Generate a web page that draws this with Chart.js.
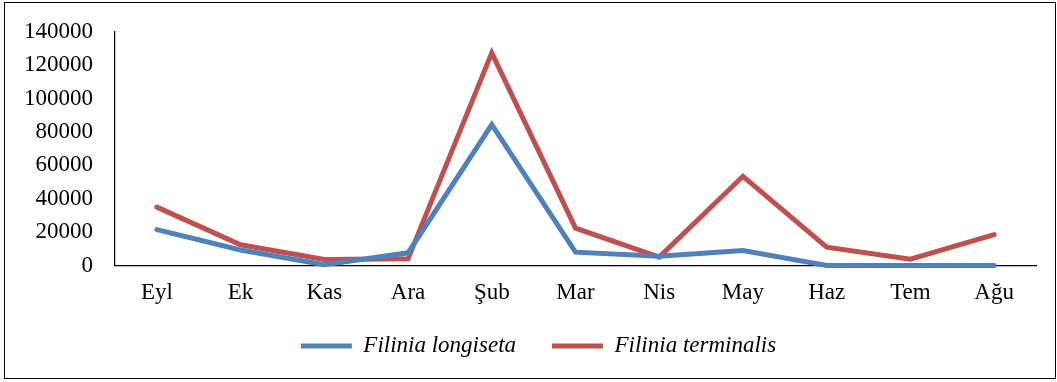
<!DOCTYPE html>
<html>
<head>
<meta charset="utf-8">
<script src="https://cdn.jsdelivr.net/npm/chart.js@4.4.1/dist/chart.umd.min.js"></script>
<style>
  html, body { margin: 0; padding: 0; background: #fff; }
  canvas { display: block; }
</style>
</head>
<body>
<canvas id="c" width="1057" height="382"></canvas>
<script>
// Monthly abundance of two Filinia species
const months = ['Eyl', 'Ek', 'Kas', 'Ara', 'Şub', 'Mar', 'Nis', 'May', 'Haz', 'Tem', 'Ağu'];
const longiseta = [21500, 9300, 500, 7600, 84500, 8000, 5500, 9000, 0, 0, 0];
const terminalis = [35000, 12400, 3600, 4000, 127500, 22400, 5000, 53500, 11000, 3800, 18500];
const yTicks = [0, 20000, 40000, 60000, 80000, 100000, 120000, 140000];

const serif = 'Liberation Serif, "Times New Roman", serif';
const PLOT_TOP = 32;

// White backdrop, outer frame, plot top edge and legend band placement
const framePlugin = {
  id: 'frame',
  afterLayout(chart) {
    const ca = chart.chartArea;
    const y = chart.scales.y;
    if (ca && y && ca.top > PLOT_TOP) {
      ca.top = PLOT_TOP;
      ca.height = ca.bottom - PLOT_TOP;
      y.top = PLOT_TOP;
      y.height = y.bottom - PLOT_TOP;
      y.configure();
    }
    const lg = chart.legend;
    if (lg) {
      const h = lg.height;
      lg.left = 41;
      lg.top = 298.5;
      lg.bottom = lg.top + h;
    }
  },
  beforeDraw(chart) {
    const ctx = chart.ctx;
    ctx.save();
    ctx.fillStyle = '#fff';
    ctx.fillRect(0, 0, chart.width, chart.height);
    ctx.restore();
  },
  afterDraw(chart) {
    const ctx = chart.ctx;
    ctx.save();
    ctx.strokeStyle = '#000';
    ctx.lineWidth = 1;
    ctx.strokeRect(4.5, 2.5, 1051, 376);
    ctx.restore();
  }
};

new Chart(document.getElementById('c'), {
  type: 'line',
  data: {
    labels: months,
    datasets: [
      {
        label: 'Filinia longiseta',
        data: longiseta,
        borderColor: '#4F81BD',
        backgroundColor: '#4F81BD',
        borderWidth: 5,
        borderCapStyle: 'round',
        borderJoinStyle: 'miter',
        pointRadius: 0,
        tension: 0,
        clip: false
      },
      {
        label: 'Filinia terminalis',
        data: terminalis,
        borderColor: '#C0504D',
        backgroundColor: '#C0504D',
        borderWidth: 5,
        borderCapStyle: 'round',
        borderJoinStyle: 'miter',
        pointRadius: 0,
        tension: 0,
        clip: false
      }
    ]
  },
  options: {
    responsive: false,
    animation: false,
    layout: {
      autoPadding: false,
      padding: { left: 0, right: 21, top: 32, bottom: 2.5 }
    },
    plugins: {
      tooltip: { enabled: false },
      legend: {
        position: 'bottom',
        labels: {
          usePointStyle: true,
          pointStyle: 'line',
          pointStyleWidth: 51,
          padding: 36,
          color: '#000',
          font: { family: serif, size: 23, style: 'italic' }
        }
      }
    },
    scales: {
      x: {
        type: 'category',
        offset: true,
        grid: { display: false, drawTicks: false },
        border: { display: true, color: '#000', width: 1.2 },
        ticks: {
          color: '#000',
          padding: 14,
          maxRotation: 0,
          autoSkip: false,
          font: { family: serif, size: 23 }
        },
        afterFit(scale) { scale.height = 45; }
      },
      y: {
        min: 0,
        max: 140000,
        afterBuildTicks(scale) { scale.ticks = yTicks.map(v => ({ value: v })); },
        grid: { display: false, drawTicks: false },
        border: { display: true, color: '#000', width: 1.2 },
        ticks: {
          color: '#000',
          padding: 22,
          font: { family: serif, size: 23 },
          callback: v => String(v)
        },
        afterFit(scale) { scale.width = 115; }
      }
    }
  },
  plugins: [framePlugin]
});
</script>
</body>
</html>
